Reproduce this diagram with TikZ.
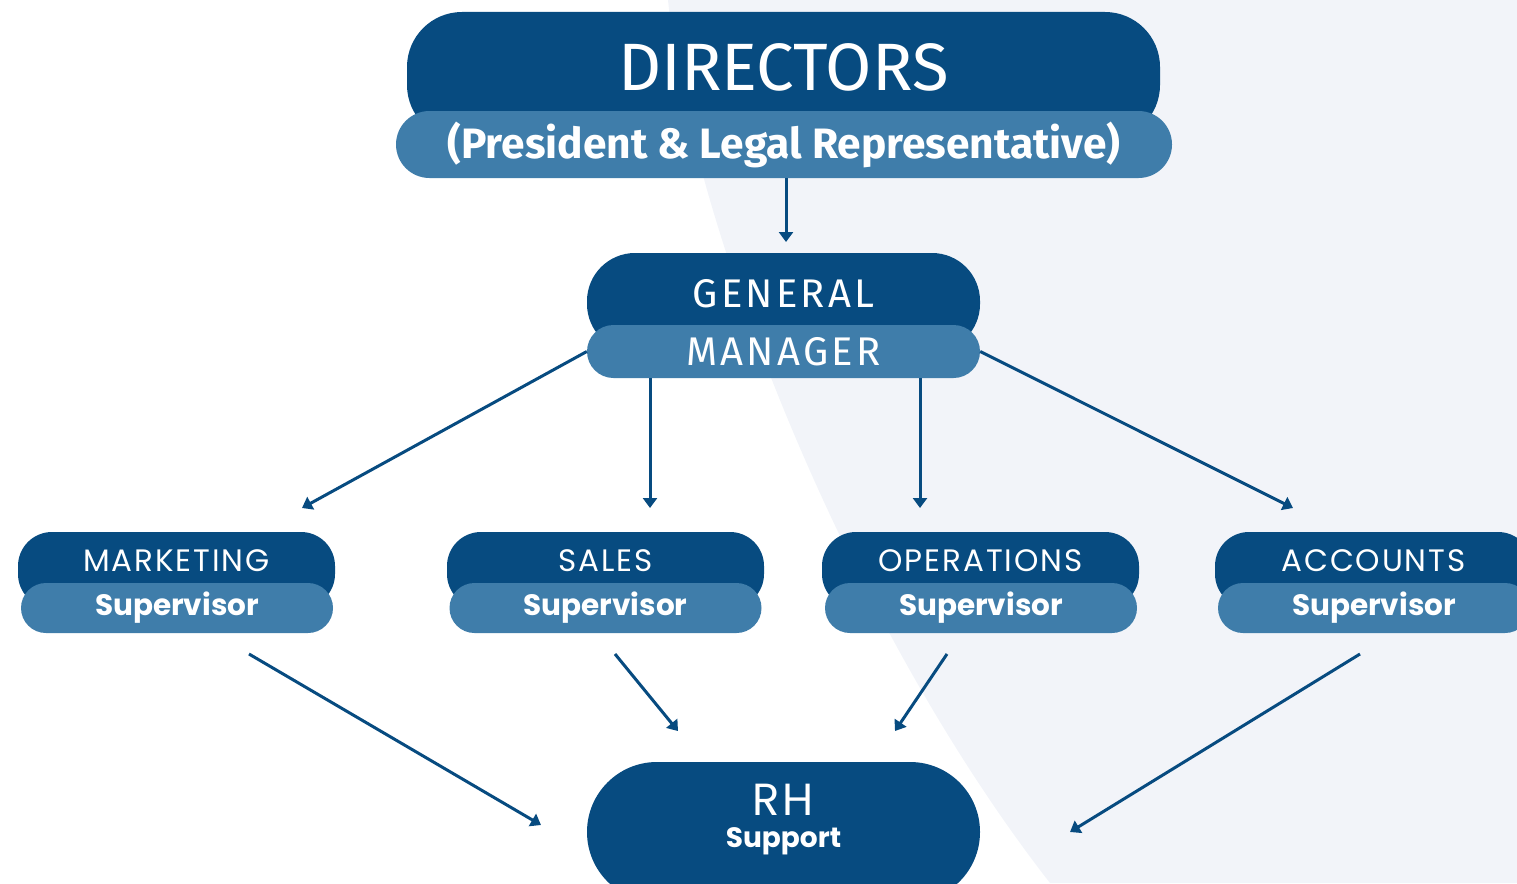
\documentclass[tikz,border=0pt]{standalone}
\usepackage{fontspec}
\setmainfont{Fira Sans}
\newfontfamily\geofont[LetterSpace=6]{Poppins}
\newfontfamily\geobold{Poppins}
\newfontfamily\widefont[LetterSpace=8]{Fira Sans}
\usepackage{xcolor}
\usepackage{tikz}
\usetikzlibrary{positioning,arrows.meta}
\definecolor{navy}{HTML}{074B80}
\definecolor{steel}{HTML}{3F7DAA}
\definecolor{backdrop}{HTML}{F2F4F9}
\tikzset{
  headbox/.style={fill=navy, text=white, inner sep=0pt},
  subpill/.style={fill=steel, text=white, inner sep=0pt},
  deptbox/.style={headbox, minimum width=317pt, minimum height=76pt, rounded corners=34pt, text depth=18pt,
    font=\geofont\fontsize{31}{31}\selectfont},
  deptpill/.style={subpill, minimum width=312pt, minimum height=50pt, rounded corners=25pt,
    font=\geobold\bfseries\fontsize{29.5}{29.5}\selectfont},
  arrow/.style={draw=navy, line width=3pt, -{Triangle[width=14pt,length=10pt]}}
}

\begin{document}
\begin{tikzpicture}[x=1pt,y=-1pt]
  \useasboundingbox (0,0) rectangle (1517,883);
  \clip (0,0) rectangle (1517,883);
  % shaded backdrop on the right
  \fill[backdrop] (668,0) -- (1517,0) -- (1517,883) -- (1050,883)
    .. controls (845,620) and (690,220) .. (668,0) -- cycle;

  % Top level
  \node (dir) [headbox, minimum width=753pt, minimum height=128pt, rounded corners=55pt, text depth=18pt,
    font=\fontsize{67}{67}\selectfont] at (783.5,76) {DIRECTORS};
  \node (dirsub) [subpill, minimum width=776pt, minimum height=67pt, rounded corners=33.5pt,
    font=\bfseries\fontsize{42.5}{42.5}\selectfont] at (784,144.5) {(President \& Legal Representative)};

  \node (gm) [headbox, minimum width=393pt, minimum height=99pt, rounded corners=48pt, text depth=19pt,
    font=\widefont\fontsize{40}{40}\selectfont] at (783.5,302.5) {GENERAL};
  \node (gmsub) [subpill, minimum width=393pt, minimum height=53pt, rounded corners=26.5pt,
    font=\widefont\fontsize{40}{40}\selectfont] at (783.5,351.5) {MANAGER};

  % Supervisors
  \node (mkt) [deptbox] at (176.5,570) {MARKETING};
  \node (mktsub) [deptpill] at (177,608) {Supervisor};
  \node (sales) [deptbox] at (605.5,570) {SALES};
  \node (salessub) [deptpill] at (605.5,608) {Supervisor};
  \node (ops) [deptbox] at (980.5,570) {OPERATIONS};
  \node (opssub) [deptpill] at (981,608) {Supervisor};
  \node (acc) [deptbox] at (1373.5,570) {ACCOUNTS};
  \node (accsub) [deptpill] at (1374,608) {Supervisor};

  % Support
  \node (rh) [headbox, minimum width=393pt, minimum height=140pt, rounded corners=69.9pt, text depth=33pt,
    align=center, font=\geofont\fontsize{45}{32}\selectfont] at (783.5,832)
    {RH\\{\geobold\bfseries\fontsize{28}{28}\selectfont Support}};

  % Arrow ends
  \coordinate (gm-in) at (786,242);
  \coordinate (mkt-in) at (302,508);
  \coordinate (sales-in) at (650,508);
  \coordinate (ops-in) at (920,508);
  \coordinate (acc-in) at (1293,508);
  \coordinate (mkt-out) at (249,654);
  \coordinate (sales-out) at (615,654);
  \coordinate (ops-out) at (947,654);
  \coordinate (acc-out) at (1360,654);
  \coordinate (rh-in1) at (541,825);
  \coordinate (rh-in2) at (678,731);
  \coordinate (rh-in3) at (895,731);
  \coordinate (rh-in4) at (1070,832);

  % Arrows
  \draw [arrow] (dirsub.south -| gm-in) -- (gm-in);
  \draw [arrow] (gmsub.west) -- (mkt-in);
  \draw [arrow] (gmsub.south -| sales-in) -- (sales-in);
  \draw [arrow] (gmsub.south -| ops-in) -- (ops-in);
  \draw [arrow] (gmsub.east) -- (acc-in);
  \draw [arrow] (mkt-out) -- (rh-in1);
  \draw [arrow] (sales-out) -- (rh-in2);
  \draw [arrow] (ops-out) -- (rh-in3);
  \draw [arrow] (acc-out) -- (rh-in4);
\end{tikzpicture}
\end{document}
